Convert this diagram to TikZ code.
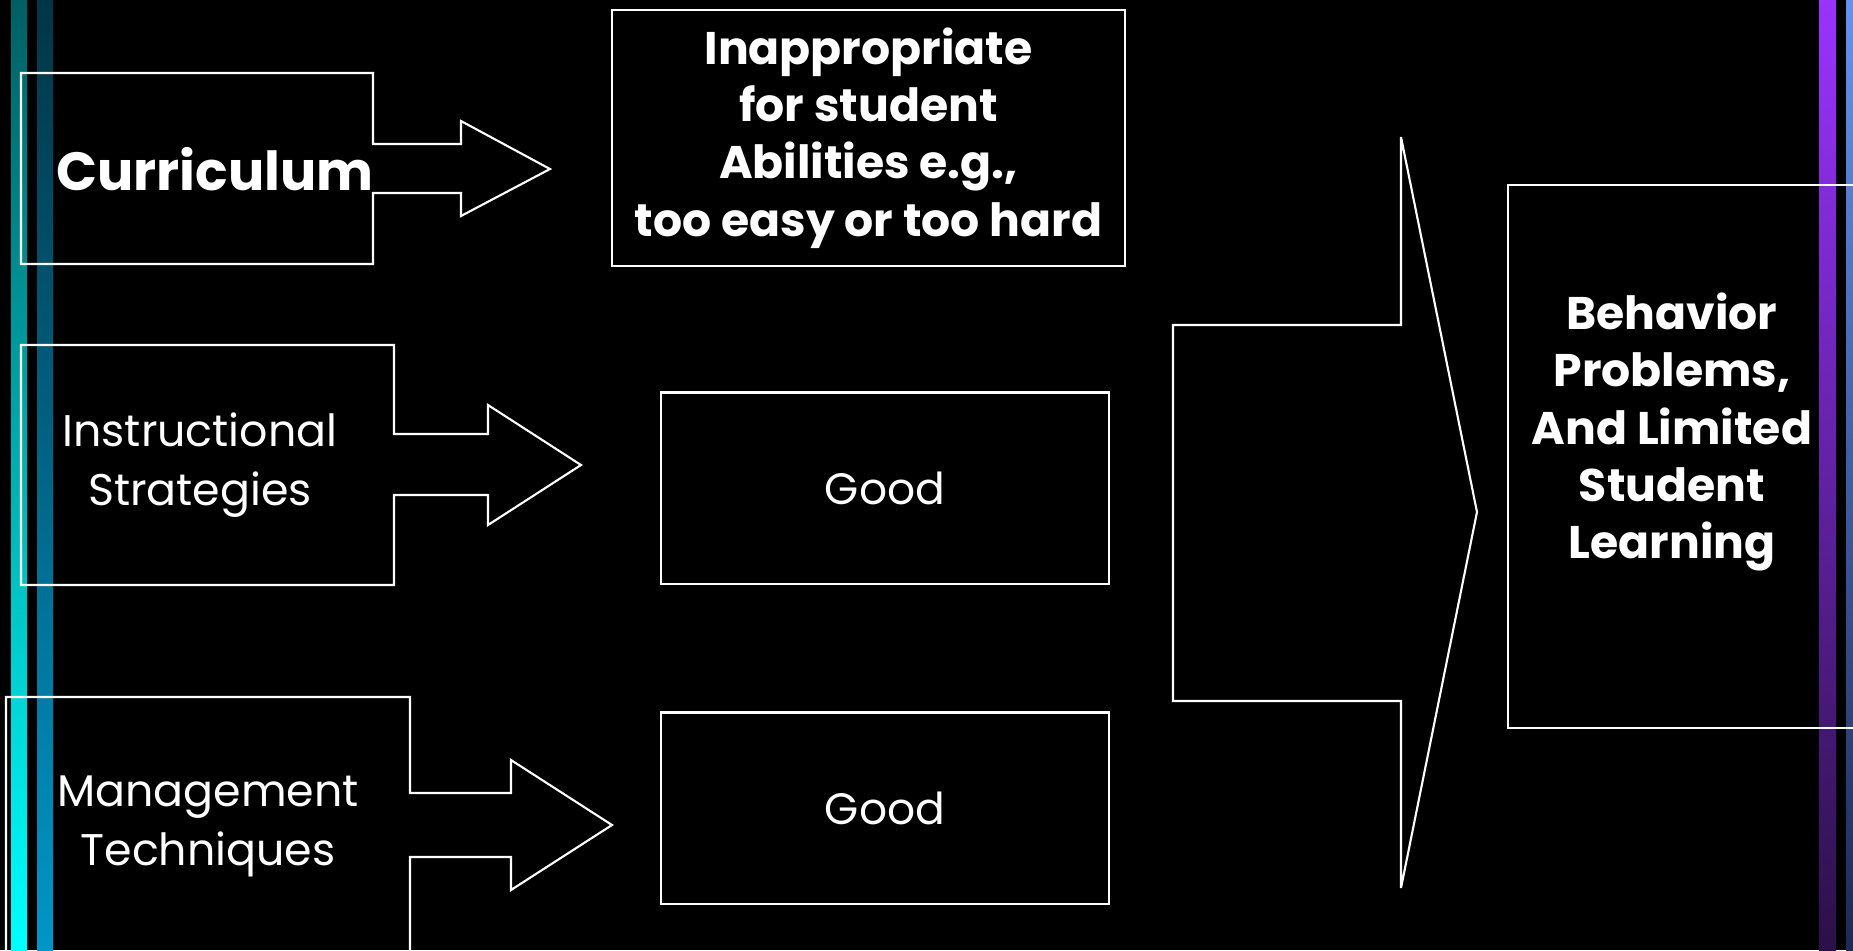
\documentclass[tikz,border=0pt]{standalone}
\usepackage{fontspec}
\setmainfont{Poppins}
\usetikzlibrary{positioning}

\definecolor{tealdark}{HTML}{005F63}
\definecolor{tealbright}{HTML}{00FFFF}
\definecolor{bluedark}{HTML}{003546}
\definecolor{bluemid}{HTML}{0096C8}
\definecolor{violettop}{HTML}{9933FF}
\definecolor{violetbot}{HTML}{2B1048}
\definecolor{skytop}{HTML}{6393F0}
\definecolor{skybot}{HTML}{1C2A55}

\begin{document}
\begin{tikzpicture}[x=0.01cm, y=-0.01cm,
  every node/.style={text=white, align=center, inner sep=0pt},
  outline/.style={draw=white, line width=0.6pt},
  heavy/.style={font=\bfseries\fontsize{13}{16.3}\selectfont},
  plain/.style={font=\fontsize{12.6}{16.8}\selectfont}]
% Background
\fill[black] (0,0) rectangle (1853,950);
\useasboundingbox (0,0) rectangle (1853,950);
\clip (0,0) rectangle (1853,950);

% Side bars
\shade[top color=tealdark, bottom color=tealbright] (11,0) rectangle (27,950);
\shade[top color=bluedark, bottom color=bluemid] (37,0) rectangle (53,950);
\shade[top color=violettop, bottom color=violetbot] (1819,0) rectangle (1836,950);
\shade[top color=skytop, bottom color=skybot] (1846,0) rectangle (1853,950);

% Callout boxes on the left
\draw[outline] (21,73) -- (373,73) -- (373,144) -- (461,144) -- (461,121) -- (550,169)
  -- (461,216) -- (461,193) -- (373,193) -- (373,264) -- (21,264) -- cycle;
\draw[outline] (21,345) -- (394,345) -- (394,434) -- (488,434) -- (488,405) -- (581,465)
  -- (488,525) -- (488,495) -- (394,495) -- (394,585) -- (21,585) -- cycle;
\draw[outline] (6,697) -- (410,697) -- (410,793) -- (511,793) -- (511,760) -- (612,825)
  -- (511,890) -- (511,857) -- (410,857) -- (410,960) -- (6,960) -- cycle;

\node[font=\bfseries\fontsize{15.3}{18}\selectfont] (curr) at (215,169) {Curriculum};
\node[plain] (instr) at (200,465) {Instructional\\Strategies};
\node[plain] (mgmt) at (208,826) {Management\\Techniques};

% Middle boxes
\node[outline, heavy, minimum width=5.13cm, minimum height=2.56cm] (inapp) at (868.5,138)
  {Inappropriate\\for student\\Abilities e.g.,\\too easy or too hard};
\node[outline, font=\fontsize{12.5}{16}\selectfont, minimum width=4.48cm, minimum height=1.91cm] (good1) at (885,488) {Good};
\node[outline, font=\fontsize{12.5}{16}\selectfont, minimum width=4.48cm, minimum height=1.91cm] (good2) at (885,808) {Good};

% Big arrow
\draw[outline] (1173,325) -- (1401,325) -- (1401,137) -- (1477,512) -- (1401,888)
  -- (1401,701) -- (1173,701) -- cycle;

% Outcome
\draw[outline] (1860,185) -- (1508,185) -- (1508,728) -- (1860,728);
\node[heavy] (result) at (1672,432) {Behavior\\Problems,\\And Limited\\Student\\Learning};
\end{tikzpicture}
\end{document}
